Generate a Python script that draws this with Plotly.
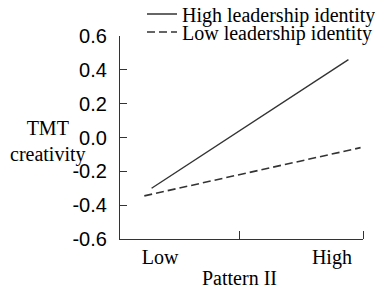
import plotly.graph_objects as go

# Data
series_names = ["High leadership identity", "Low leadership identity"]
high_x = [0.13, 0.94]
high_y = [-0.30, 0.46]
low_x = [0.10, 0.99]
low_y = [-0.345, -0.06]
x_tick_labels = ["Low", "High"]
x_label_pos = [0.165, 0.872]
x_mark_pos = [0.49, 1.0]
y_ticks = [0.6, 0.4, 0.2, 0.0, -0.2, -0.4, -0.6]

# page body adds an 8px offset; compensate in margins
OFF = 8
L, T, PW, PH = 120 - OFF, 36 - OFF, 243, 203

def py(pix):  # reference pixel y -> paper y
    return (239 - pix) / PH

def px(pix):  # reference pixel x -> paper x
    return (pix - 120) / PW

fig = go.Figure()
fig.add_trace(go.Scatter(x=high_x, y=high_y, mode="lines", name=series_names[0],
                         line=dict(color="#333333", width=1.4), legend="legend"))
fig.add_trace(go.Scatter(x=low_x, y=low_y, mode="lines", name=series_names[1],
                         line=dict(color="#333333", width=1.6, dash="8px,4px"), legend="legend2"))

leg_common = dict(xanchor="left", yanchor="middle",
                  font=dict(family="Liberation Serif", size=20, color="black"),
                  bgcolor="rgba(0,0,0,0)", itemwidth=30, tracegroupgap=0)

fig.update_layout(
    width=383, height=289,
    margin=dict(l=L, r=383 - L - PW, t=T, b=289 - T - PH, autoexpand=False),
    paper_bgcolor="white", plot_bgcolor="white",
    showlegend=True,
    legend=dict(x=px(142), y=py(14), **leg_common),
    legend2=dict(x=px(142), y=py(32), **leg_common),
    xaxis=dict(range=[0, 1], showline=True, linecolor="#333333", linewidth=1.3,
               showgrid=False, zeroline=False,
               tickvals=x_label_pos, ticktext=x_tick_labels, ticks="",
               ticklabelstandoff=0,
               tickfont=dict(family="Liberation Serif", size=20, color="black"),
               minor=dict(tickvals=x_mark_pos, ticks="inside", ticklen=8,
                          tickcolor="#333333", tickwidth=1.3, showgrid=False)),
    yaxis=dict(range=[-0.6, 0.6], showline=True, linecolor="#333333", linewidth=1.3,
               showgrid=False, zeroline=False,
               tickvals=y_ticks, ticktext=[f"{v:.1f}" for v in y_ticks],
               ticks="inside", ticklen=7, tickcolor="#333333", tickwidth=1.3,
               ticklabelstandoff=8,
               tickfont=dict(family="Liberation Sans", size=20, color="black")),
)

fig.add_annotation(text="TMT<br>creativity", xref="paper", yref="paper",
                   x=px(48), y=py(141), xanchor="center", yanchor="middle",
                   showarrow=False, align="center",
                   font=dict(family="Liberation Serif", size=20, color="black"))
fig.add_annotation(text="Pattern II", xref="paper", yref="paper",
                   x=px(239), y=py(278), xanchor="center", yanchor="middle",
                   showarrow=False,
                   font=dict(family="Liberation Serif", size=20, color="black"))

fig.write_html("out.html")
